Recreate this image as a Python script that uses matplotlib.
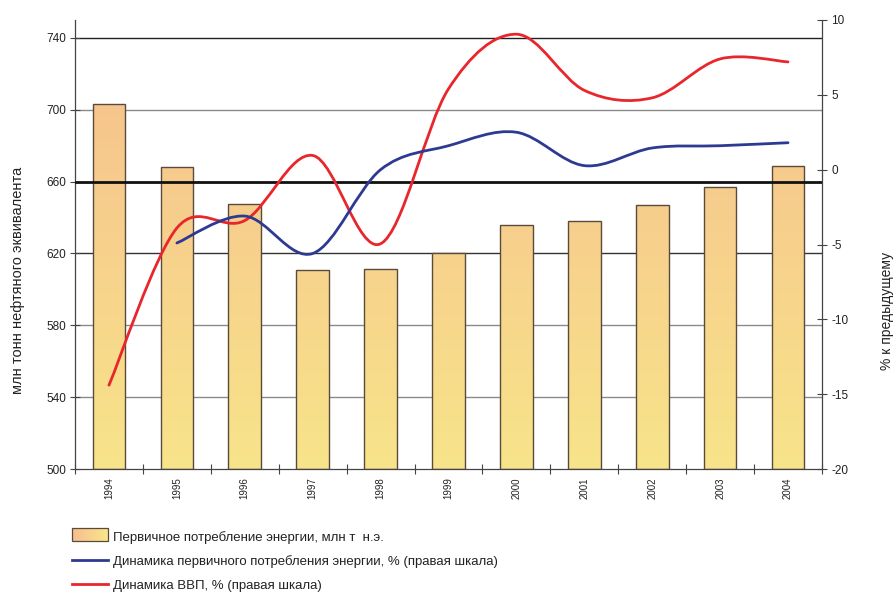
import numpy as np
import matplotlib
matplotlib.use("Agg")
import matplotlib.pyplot as plt
from matplotlib.path import Path
from matplotlib.patches import PathPatch, Rectangle
from matplotlib.lines import Line2D
from matplotlib.legend_handler import HandlerBase
from matplotlib.colors import LinearSegmentedColormap

plt.rcParams["font.family"] = ["Liberation Sans", "DejaVu Sans"]
plt.rcParams["axes.unicode_minus"] = False

years = ["1994", "1995", "1996", "1997", "1998", "1999", "2000", "2001", "2002", "2003", "2004"]
energy = [703, 668, 647.5, 611, 611.5, 620.5, 636, 638, 647, 657, 668.5]      # млн т н.э.
gdp = [-14.4, -3.9, -3.4, 0.95, -4.95, 5.4, 9.05, 5.3, 4.8, 7.4, 7.2]          # %
energy_dyn = [-4.9, -3.1, -5.6, 0.0, 1.6, 2.5, 0.27, 1.45, 1.6, 1.8]           # %, from 1995

ORANGE, YELLOW = "#F6BE8E", "#F8E48A"
RED, BLUE = "#E8262B", "#2E3A92"
cmap = LinearSegmentedColormap.from_list("bar", [YELLOW, ORANGE])


def smooth(xs, ys):
    # Excel-style smoothed line: cubic bezier with catmull-rom tangents
    n = len(xs)
    verts, codes = [(xs[0], ys[0])], [Path.MOVETO]
    for i in range(n - 1):
        a = max(i - 1, 0)
        b = min(i + 2, n - 1)
        c1 = (xs[i] + (xs[i + 1] - xs[a]) / 6, ys[i] + (ys[i + 1] - ys[a]) / 6)
        c2 = (xs[i + 1] - (xs[b] - xs[i]) / 6, ys[i + 1] - (ys[b] - ys[i]) / 6)
        verts += [c1, c2, (xs[i + 1], ys[i + 1])]
        codes += [Path.CURVE4] * 3
    return Path(verts, codes)


class GradHandler(HandlerBase):
    def create_artists(self, legend, orig, xd, yd, w, h, fs, trans):
        arts = []
        k = 20
        for j in range(k):
            arts.append(Rectangle((xd + w * j / k, yd - 1), w / k + 0.3, h + 2,
                                  facecolor=cmap(1 - j / (k - 1)), edgecolor="none",
                                  transform=trans))
        arts.append(Rectangle((xd, yd - 1), w, h + 2, facecolor="none",
                              edgecolor="#5a4a3c", lw=0.9, transform=trans))
        return arts


fig = plt.figure(figsize=(8.95, 5.93), dpi=100)
ax = fig.add_axes([75 / 895, 1 - 469 / 593, 747 / 895, 449 / 593])
x = np.arange(len(years))
ax.set_xlim(-0.5, len(years) - 0.5)
ax.set_ylim(500, 750)

# gridlines behind bars
grid_cols = {740: "#222222", 700: "#8a8a8a", 620: "#333333", 580: "#8a8a8a", 540: "#8a8a8a"}
for v, c in grid_cols.items():
    ax.axhline(v, color=c, lw=1.0, zorder=0.5)

bars = ax.bar(x, np.array(energy) - 500, bottom=500, width=0.48,
              facecolor="none", edgecolor="#5a4a3c", lw=1.0, zorder=2)
clip = Path.make_compound_path(*[r.get_path().transformed(r.get_patch_transform()) for r in bars])
grad = np.linspace(0, 1, 256).reshape(-1, 1)
im = ax.imshow(grad, cmap=cmap, origin="lower", aspect="auto",
               extent=(-0.5, len(years) - 0.5, 500, 750), zorder=1.5)
im.set_clip_path(clip, ax.transData)
ax.axhline(660, color="#111111", lw=2.0, zorder=3)

ax.set_yticks(range(500, 741, 40))
ax.set_xticks(np.arange(-0.5, len(years), 1))
ax.set_xticklabels([])
ax.set_xticks(x, minor=True)
ax.set_xticklabels(years, minor=True, rotation=90, fontsize=7, color="#222222")
ax.tick_params(axis="x", which="major", direction="inout", length=7, width=0.8, color="#444444")
ax.tick_params(axis="x", which="minor", length=0, pad=6)
ax.tick_params(axis="y", direction="inout", length=7, width=0.8, labelsize=8.5,
               color="#444444", labelcolor="#222222", pad=3)
for s in ["top", "right"]:
    ax.spines[s].set_visible(False)
for s in ["left", "bottom"]:
    ax.spines[s].set_color("#444444")
    ax.spines[s].set_linewidth(0.9)

ax2 = ax.twinx()
ax2.set_ylim(-20, 10)
ax2.set_yticks(range(-20, 11, 5))
ax2.tick_params(axis="y", direction="inout", length=7, width=0.8, labelsize=8.5,
                color="#444444", labelcolor="#222222", pad=3)
for s in ["top", "left", "bottom"]:
    ax2.spines[s].set_visible(False)
ax2.spines["right"].set_color("#444444")
ax2.spines["right"].set_linewidth(0.9)

ax2.add_patch(PathPatch(smooth(x, gdp), fill=False, edgecolor=RED, lw=2.0, capstyle="round"))
ax2.add_patch(PathPatch(smooth(x[1:], energy_dyn), fill=False, edgecolor=BLUE, lw=2.0, capstyle="round"))

fig.text(18 / 895, 1 - 280 / 593, "млн тонн нефтяного эквивалента", rotation=90,
         ha="center", va="center", fontsize=10.5, color="#222222")
fig.text(887 / 895, 1 - 311 / 593, "% к предыдущему", rotation=90,
         ha="center", va="center", fontsize=10, color="#222222")

handles = [Rectangle((0, 0), 1, 1),
           Line2D([], [], color=BLUE, lw=2.0),
           Line2D([], [], color=RED, lw=2.0)]
labels = ["Первичное потребление энергии, млн т  н.э.",
          "Динамика первичного потребления энергии, % (правая шкала)",
          "Динамика ВВП, % (правая шкала)"]
fig.legend(handles, labels, loc="upper left", bbox_to_anchor=(72 / 895, 1 - 531 / 593),
           frameon=False, fontsize=9.5, handlelength=2.7, handleheight=0.9,
           handletextpad=0.4, labelspacing=0.82, borderpad=0, borderaxespad=0,
           labelcolor="#222222", handler_map={Rectangle: GradHandler()})

fig.savefig("out.png", dpi=100)
